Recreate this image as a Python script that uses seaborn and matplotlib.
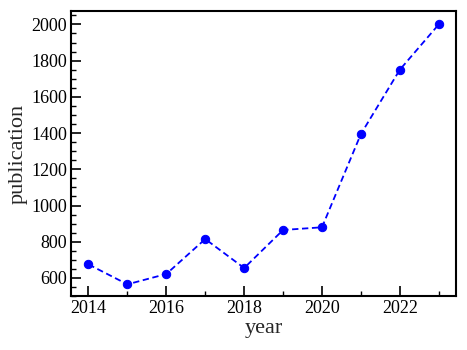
import pandas as pd
import seaborn as sns
from matplotlib import pyplot as plt
from matplotlib.ticker import MultipleLocator

years = [2014, 2015, 2016, 2017, 2018, 2019, 2020, 2021, 2022, 2023]
publications = [675, 565, 622, 815, 655, 865, 880, 1395, 1750, 2000]

sns.set_style("ticks")
plt.rcParams['font.family'] = ['Liberation Serif', 'DejaVu Serif']

df = pd.DataFrame({"year": years, "publication": publications})

fig, ax = plt.subplots(figsize=(4.67, 3.5), dpi=100)
sns.lineplot(data=df, x="year", y="publication", ax=ax, color="blue",
             marker="o", markersize=6, markeredgecolor="blue",
             linewidth=1.3, dashes=False)
ax.lines[0].set_dashes([3.5, 2])

ax.set_xlim(2013.55, 2023.45)
ax.set_ylim(500, 2075)
ax.xaxis.set_major_locator(MultipleLocator(2))
ax.xaxis.set_minor_locator(MultipleLocator(1))
ax.yaxis.set_major_locator(MultipleLocator(200))
ax.yaxis.set_minor_locator(MultipleLocator(50))
ax.tick_params(which="both", direction="in", labelsize=13, colors="black", pad=3)
ax.tick_params(which="major", length=7, width=1.2)
ax.tick_params(which="minor", length=3.5, width=1)
for s in ax.spines.values():
    s.set_linewidth(1.5)
    s.set_color("black")
ax.set_xlabel("year", fontsize=16, labelpad=1)
ax.set_ylabel("publication", fontsize=16, labelpad=2)

fig.subplots_adjust(left=0.152, right=0.977, top=0.969, bottom=0.154)
fig.savefig("out.png")
